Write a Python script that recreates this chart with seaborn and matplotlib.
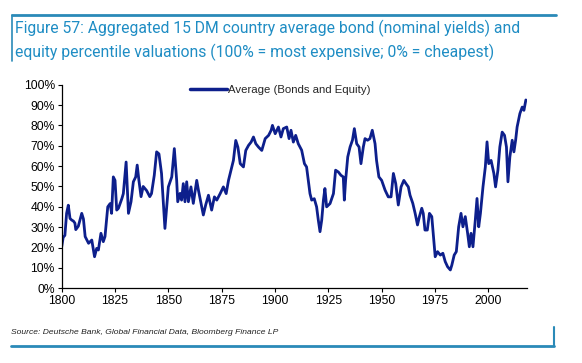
import matplotlib
matplotlib.use("Agg")
import matplotlib.pyplot as plt
import seaborn as sns
import pandas as pd
from matplotlib.ticker import PercentFormatter

# values (year, percentile)
years = [1800.0, 1800.7, 1801.5, 1802.3, 1803.1, 1803.9, 1804.7, 1805.5, 1806.2, 1806.6,
         1807.8, 1809.4, 1810.2, 1811.0, 1812.6, 1814.1, 1815.4, 1816.4, 1817.2, 1818.4,
         1819.5, 1820.3, 1821.6, 1822.7, 1823.4, 1824.2, 1825.0, 1825.8, 1826.6, 1828.2,
         1828.9, 1830.2, 1831.3, 1832.5, 1833.6, 1834.7, 1835.4, 1836.2, 1837.2, 1838.2,
         1839.8, 1841.3, 1842.1, 1843.4, 1844.5, 1845.6, 1846.8, 1848.4, 1850.0, 1851.6,
         1852.8, 1853.9, 1854.4, 1855.5, 1856.2, 1857.0, 1857.8, 1858.6, 1859.4, 1860.6,
         1861.7, 1863.3, 1864.1, 1865.3, 1866.4, 1867.5, 1868.8, 1870.3, 1871.6, 1872.7,
         1874.3, 1875.8, 1877.1, 1878.2, 1879.4, 1880.5, 1881.6, 1882.6, 1883.7, 1885.2,
         1886.3, 1887.6, 1888.8, 1889.9, 1891.0, 1892.3, 1893.8, 1895.4, 1897.0, 1898.2,
         1898.8, 1900.1, 1901.6, 1902.8, 1903.9, 1905.5, 1906.6, 1907.5, 1908.6, 1909.7,
         1910.9, 1912.5, 1913.8, 1914.8, 1915.6, 1916.4, 1917.2, 1918.4, 1919.5, 1920.3,
         1921.1, 1921.9, 1922.7, 1923.4, 1924.2, 1925.8, 1927.4, 1928.4, 1929.7, 1930.9,
         1932.0, 1932.5, 1933.1, 1934.1, 1935.2, 1936.3, 1937.2, 1938.3, 1939.4, 1940.3,
         1941.4, 1942.2, 1943.4, 1944.5, 1945.6, 1946.9, 1947.6, 1948.7, 1950.0, 1951.6,
         1953.1, 1954.4, 1955.5, 1956.6, 1957.8, 1959.1, 1960.4, 1961.4, 1962.5, 1963.3,
         1964.6, 1965.7, 1966.8, 1967.7, 1968.8, 1969.5, 1970.3, 1971.4, 1972.4, 1973.5,
         1974.3, 1975.1, 1976.2, 1977.5, 1978.7, 1979.8, 1980.9, 1982.2, 1982.9, 1984.0,
         1985.0, 1986.1, 1987.2, 1988.1, 1989.2, 1990.3, 1991.1, 1991.9, 1992.8, 1993.9,
         1994.7, 1995.5, 1996.3, 1997.5, 1998.6, 1999.4, 2000.2, 2001.3, 2002.6, 2003.4,
         2004.5, 2005.4, 2006.5, 2007.6, 2008.5, 2009.2, 2010.1, 2011.2, 2012.0, 2012.8,
         2013.5, 2014.8, 2015.9, 2016.7, 2017.6]
values = [20.4, 25.0, 26.0, 36.8, 40.8, 34.3, 33.5, 33.0, 32.0, 28.8,
          30.5, 36.8, 34.0, 25.4, 22.1, 23.7, 15.5, 19.6, 18.8, 27.0,
          22.9, 25.4, 40.0, 41.6, 36.8, 54.7, 53.0, 38.4, 39.3, 44.0,
          46.5, 62.0, 36.8, 42.5, 52.3, 54.7, 60.5, 53.0, 45.0, 50.0,
          48.0, 45.0, 46.5, 55.5, 67.0, 66.0, 56.4, 29.4, 49.8, 54.7,
          68.6, 53.0, 42.5, 46.6, 43.3, 51.4, 42.5, 52.3, 42.5, 49.8,
          41.7, 53.0, 48.2, 41.7, 36.0, 40.9, 45.7, 38.4, 44.9, 43.3,
          46.5, 49.8, 46.5, 53.0, 58.0, 62.8, 72.6, 69.3, 61.2, 59.6,
          67.7, 70.2, 71.8, 74.3, 71.0, 69.3, 67.7, 73.5, 75.1, 77.6,
          80.0, 75.9, 79.2, 74.3, 78.4, 79.2, 73.5, 77.6, 71.8, 75.1,
          71.0, 67.8, 61.2, 59.6, 53.0, 46.5, 43.3, 44.0, 40.0, 33.5,
          27.8, 33.5, 43.3, 49.0, 40.0, 41.6, 46.5, 58.0, 57.1, 55.5,
          54.7, 43.3, 53.0, 64.5, 69.4, 72.7, 78.4, 71.0, 69.4, 61.2,
          69.4, 73.5, 72.7, 73.5, 77.6, 71.0, 62.8, 54.7, 53.0, 48.2,
          44.9, 44.9, 56.4, 51.4, 40.9, 49.8, 53.0, 51.4, 49.8, 45.7,
          41.7, 36.8, 31.1, 35.2, 39.3, 36.8, 28.6, 28.6, 36.8, 35.2,
          25.3, 15.5, 18.0, 16.3, 17.2, 13.1, 10.6, 9.0, 11.4, 16.3,
          18.0, 30.2, 36.8, 30.2, 35.2, 27.0, 20.4, 27.0, 20.4, 33.5,
          44.1, 30.2, 36.8, 49.8, 59.6, 71.9, 61.2, 62.8, 56.4, 49.8,
          58.0, 69.4, 76.7, 75.1, 69.4, 52.3, 64.5, 72.7, 67.0, 72.7,
          79.2, 85.8, 89.0, 87.4, 92.5]
x_ticks = [1800, 1825, 1850, 1875, 1900, 1925, 1950, 1975, 2000]
y_ticks = [0, 10, 20, 30, 40, 50, 60, 70, 80, 90, 100]
series_name = "Average (Bonds and Equity)"

df = pd.DataFrame({"year": years, "value": [v / 100 for v in values]})
df["series"] = series_name

sns.set_style("white")
plt.rcParams['font.family'] = ['Liberation Sans', 'DejaVu Sans']

fig = plt.figure(figsize=(5.82, 3.63), dpi=100)
ax = fig.add_axes([0.106, 0.2058, 0.799, 0.561])

sns.lineplot(data=df, x="year", y="value", hue="series", palette=["#0d1f8c"],
             linewidth=2.0, ax=ax)

ax.set_xlim(1800, 2018)
ax.set_ylim(0, 1)
ax.set_xticks(x_ticks)
ax.set_yticks([t / 100 for t in y_ticks])
ax.yaxis.set_major_formatter(PercentFormatter(1.0, decimals=0))
ax.set_xlabel("")
ax.set_ylabel("")
ax.tick_params(axis="both", labelsize=8.7, colors="black", length=3, width=0.8,
               direction="out", pad=2)
ax.tick_params(axis="x", bottom=True)
ax.tick_params(axis="y", left=True)
for s in ["top", "right"]:
    ax.spines[s].set_visible(False)
for s in ["left", "bottom"]:
    ax.spines[s].set_color("black")
    ax.spines[s].set_linewidth(0.9)

leg = ax.legend(loc="upper center", bbox_to_anchor=(0.47, 1.05), frameon=False,
                fontsize=8.2, handlelength=3.2, handletextpad=0.1)
for h in leg.get_lines():
    h.set_linewidth(2.5)

title_col = "#1f8dc4"
fig.text(15 / 582, 1 - 28 / 363, "Figure 57: Aggregated 15 DM country average bond (nominal yields) and",
         fontsize=11.3, color=title_col, va="center", ha="left", family=["Roboto", "DejaVu Sans"])
fig.text(15 / 582, 1 - 52 / 363, "equity percentile valuations (100% = most expensive; 0% = cheapest)",
         fontsize=11.3, color=title_col, va="center", ha="left", family=["Roboto", "DejaVu Sans"])
rule_col = "#2a8ab8"
fig.add_artist(plt.Line2D([12 / 582, 556 / 582], [1 - 15 / 363, 1 - 15 / 363],
                          color=rule_col, linewidth=2, transform=fig.transFigure))
fig.add_artist(plt.Line2D([12 / 582, 12 / 582], [1 - 15 / 363, 1 - 61 / 363],
                          color=rule_col, linewidth=1.2, transform=fig.transFigure))

fig.text(11 / 582, 1 - 333 / 363, "Source: Deutsche Bank, Global Financial Data, Bloomberg Finance LP",
         fontsize=6.1, style="italic", color="#222222", va="center", ha="left")
fig.add_artist(plt.Line2D([11 / 582, 554 / 582], [1 - 345.5 / 363, 1 - 345.5 / 363],
                          color=rule_col, linewidth=2, transform=fig.transFigure))
fig.add_artist(plt.Line2D([554 / 582, 554 / 582], [1 - 327 / 363, 1 - 345.5 / 363],
                          color=rule_col, linewidth=1.5, transform=fig.transFigure))

fig.savefig("out.png", dpi=100)
